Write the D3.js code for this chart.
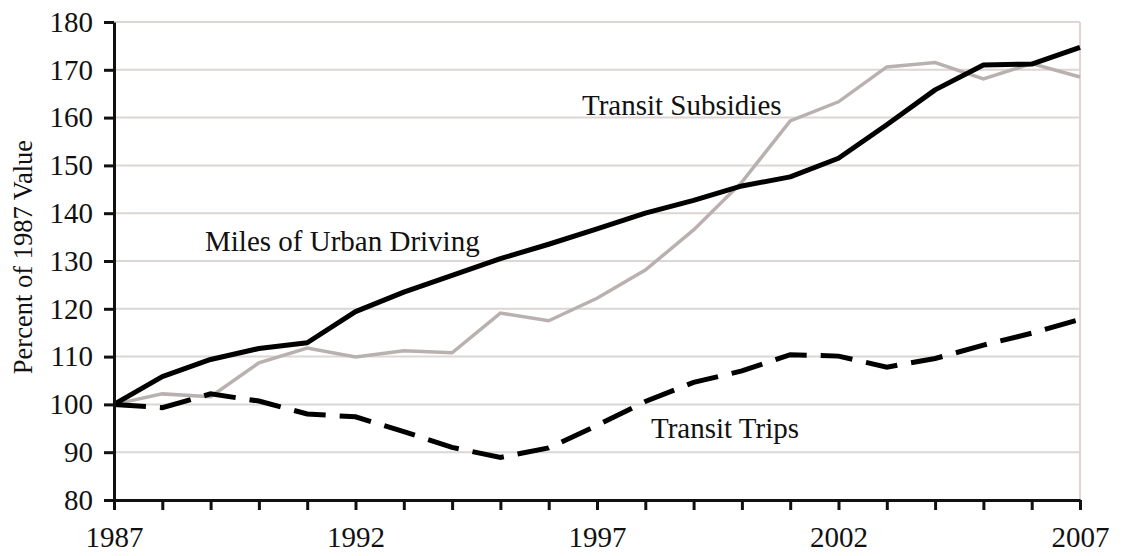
<!DOCTYPE html>
<html lang="en">
<head>
  <meta charset="UTF-8">
  <title>Percent of 1987 Value</title>
  <script src="https://d3js.org/d3.v7.min.js"></script>
  <style>
    body { margin: 0; background: #fff; }
    text { font-family: "Liberation Serif", "Times New Roman", serif; fill: #111; }
    .axis path, .axis line { stroke: #111; stroke-width: 3; }
    .axis text { font-size: 29px; font-family: "Liberation Serif", "Times New Roman", serif; fill: #111; }
    .grid line { stroke: #ddd6d3; stroke-width: 2; }
  </style>
</head>
<body>
  <script>
    // Data
    var years = d3.range(1987, 2008);
    var driving = [100, 105.8, 109.4, 111.7, 112.9, 119.4, 123.5, 127, 130.5, 133.5, 136.7,
                   140, 142.7, 145.7, 147.6, 151.5, 158.5, 165.8, 171, 171.2, 174.7];
    var subsidies = [100, 102.2, 101.6, 108.7, 111.8, 109.9, 111.2, 110.8, 119.1, 117.5, 122.2,
                     128.1, 136.5, 146.5, 159.3, 163.3, 170.6, 171.5, 168.1, 171.3, 168.5];
    var trips = [100, 99.3, 102.2, 100.7, 98, 97.4, 94.3, 91, 88.9, 90.9, 95.6,
                 100.6, 104.6, 107, 110.4, 110.1, 107.8, 109.6, 112.4, 114.9, 117.8];
    var yTicks = [80, 90, 100, 110, 120, 130, 140, 150, 160, 170, 180];
    var xLabels = [1987, 1992, 1997, 2002, 2007];

    var w = 1125, h = 556;
    var mLeft = 114, mRight = 1080, mTop = 22, mBottom = 500;

    var svg = d3.select("body").append("svg")
      .attr("width", w)
      .attr("height", h);

    var x = d3.scaleLinear().domain([1987, 2007]).range([mLeft, mRight]);
    var y = d3.scaleLinear().domain([80, 180]).range([mBottom, mTop]);

    // gridlines
    svg.append("g").attr("class", "grid")
      .selectAll("line")
      .data(yTicks.slice(1))
      .enter().append("line")
      .attr("x1", mLeft).attr("x2", mRight)
      .attr("y1", function(d) { return y(d); })
      .attr("y2", function(d) { return y(d); });

    // right border
    svg.append("line")
      .attr("x1", mRight).attr("x2", mRight)
      .attr("y1", mTop).attr("y2", mBottom)
      .attr("stroke", "#ddd6d3").attr("stroke-width", 2);

    var line = d3.line()
      .x(function(d, i) { return x(years[i]); })
      .y(function(d) { return y(d); });

    svg.append("path").datum(subsidies)
      .attr("d", line)
      .attr("fill", "none")
      .attr("stroke", "#b9b1af")
      .attr("stroke-width", 3.5);

    svg.append("path").datum(trips)
      .attr("d", line)
      .attr("fill", "none")
      .attr("stroke", "#000")
      .attr("stroke-width", 5)
      .attr("stroke-dasharray", "32,14");

    svg.append("path").datum(driving)
      .attr("d", line)
      .attr("fill", "none")
      .attr("stroke", "#000")
      .attr("stroke-width", 5)
      .attr("stroke-linejoin", "round");

    // axes
    var yAxis = d3.axisLeft(y).tickValues(yTicks).tickSize(10).tickPadding(11).tickSizeOuter(0);
    svg.append("g").attr("class", "axis")
      .attr("transform", "translate(" + mLeft + ",0)")
      .call(yAxis);

    var xAxis = d3.axisBottom(x).tickValues(years).tickSize(10).tickSizeOuter(0)
      .tickFormat(function(d) { return xLabels.indexOf(d) >= 0 ? d : ""; });
    var gx = svg.append("g").attr("class", "axis")
      .attr("transform", "translate(0," + mBottom + ")")
      .call(xAxis);
    // year labels sit low, just above the bottom edge
    gx.selectAll(".tick text")
      .attr("y", 47).attr("dy", null);

    // y title
    svg.append("text")
      .attr("transform", "translate(32,257) rotate(-90)")
      .attr("text-anchor", "middle")
      .style("font-size", "26.5px")
      .text("Percent of 1987 Value");

    // series labels
    svg.append("text").attr("x", 205).attr("y", 251)
      .style("font-size", "29px").text("Miles of Urban Driving");
    svg.append("text").attr("x", 582).attr("y", 115)
      .style("font-size", "29px").text("Transit Subsidies");
    svg.append("text").attr("x", 651).attr("y", 438)
      .style("font-size", "29px").text("Transit Trips");
  </script>
</body>
</html>
